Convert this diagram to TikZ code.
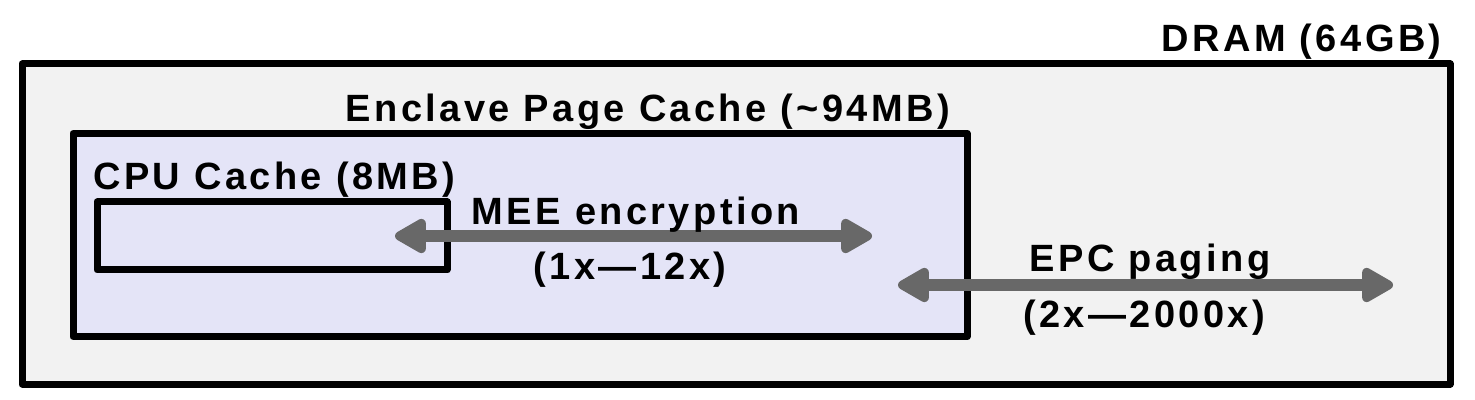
\documentclass[tikz,border=0pt]{standalone}
\usepackage{fontspec}
\usepackage{xcolor}
\usetikzlibrary{arrows.meta}
\newfontfamily\labelfont{Liberation Sans}[LetterSpace=9]
\definecolor{dramfill}{RGB}{242,242,242}
\definecolor{epcfill}{RGB}{228,228,247}
\definecolor{arrowgray}{RGB}{104,104,104}

\begin{document}
\begin{tikzpicture}
      [ x=0.5pt, y=-0.5pt
      , box/.style={draw, line width=3.5pt, line join=round, inner sep=0pt}
      , lbl/.style={font=\labelfont\bfseries\fontsize{19}{22}\selectfont, inner sep=0pt}
      , link/.style={draw=arrowgray, line width=6pt,
          {Triangle[length=18pt,width=19pt,round]}-{Triangle[length=18pt,width=19pt,round]}}
      ]
    \useasboundingbox (0,0) rectangle (1475,400);

    \node[box, fill=dramfill, minimum width=714pt, minimum height=160pt] (DRAM) at (736,224) {};
    \node[box, fill=epcfill, minimum width=447pt, minimum height=101.75pt] (EPC) at (520,235) {};
    \node[box, fill=epcfill, minimum width=175pt, minimum height=34pt] (CPU) at (272,236) {};

    \node[lbl, anchor=base east] (DRAMlbl) at (1442,52) {DRAM (64GB)};
    \node[lbl, anchor=base] (EPClbl) at (648,122) {Enclave Page Cache (\textasciitilde 94MB)};
    \node[lbl, anchor=base west] (CPUlbl) at (93,190) {CPU Cache (8MB)};

    \coordinate (meeL) at (395,236);
    \coordinate (meeR) at (872,236);
    \coordinate (pagL) at (898,285);
    \coordinate (pagR) at (1393,285);

    \draw[link] (meeL) -- (meeR);
    \draw[link] (pagL) -- (pagR);

    \node[lbl, anchor=base] (MEE) at (636,225) {MEE encryption};
    \node[lbl, anchor=base] (MEEcost) at (630,279) {(1x—12x)};
    \node[lbl, anchor=base] (PAG) at (1150,272) {EPC paging};
    \node[lbl, anchor=base] (PAGcost) at (1144,328) {(2x—2000x)};

  \end{tikzpicture}
\end{document}
